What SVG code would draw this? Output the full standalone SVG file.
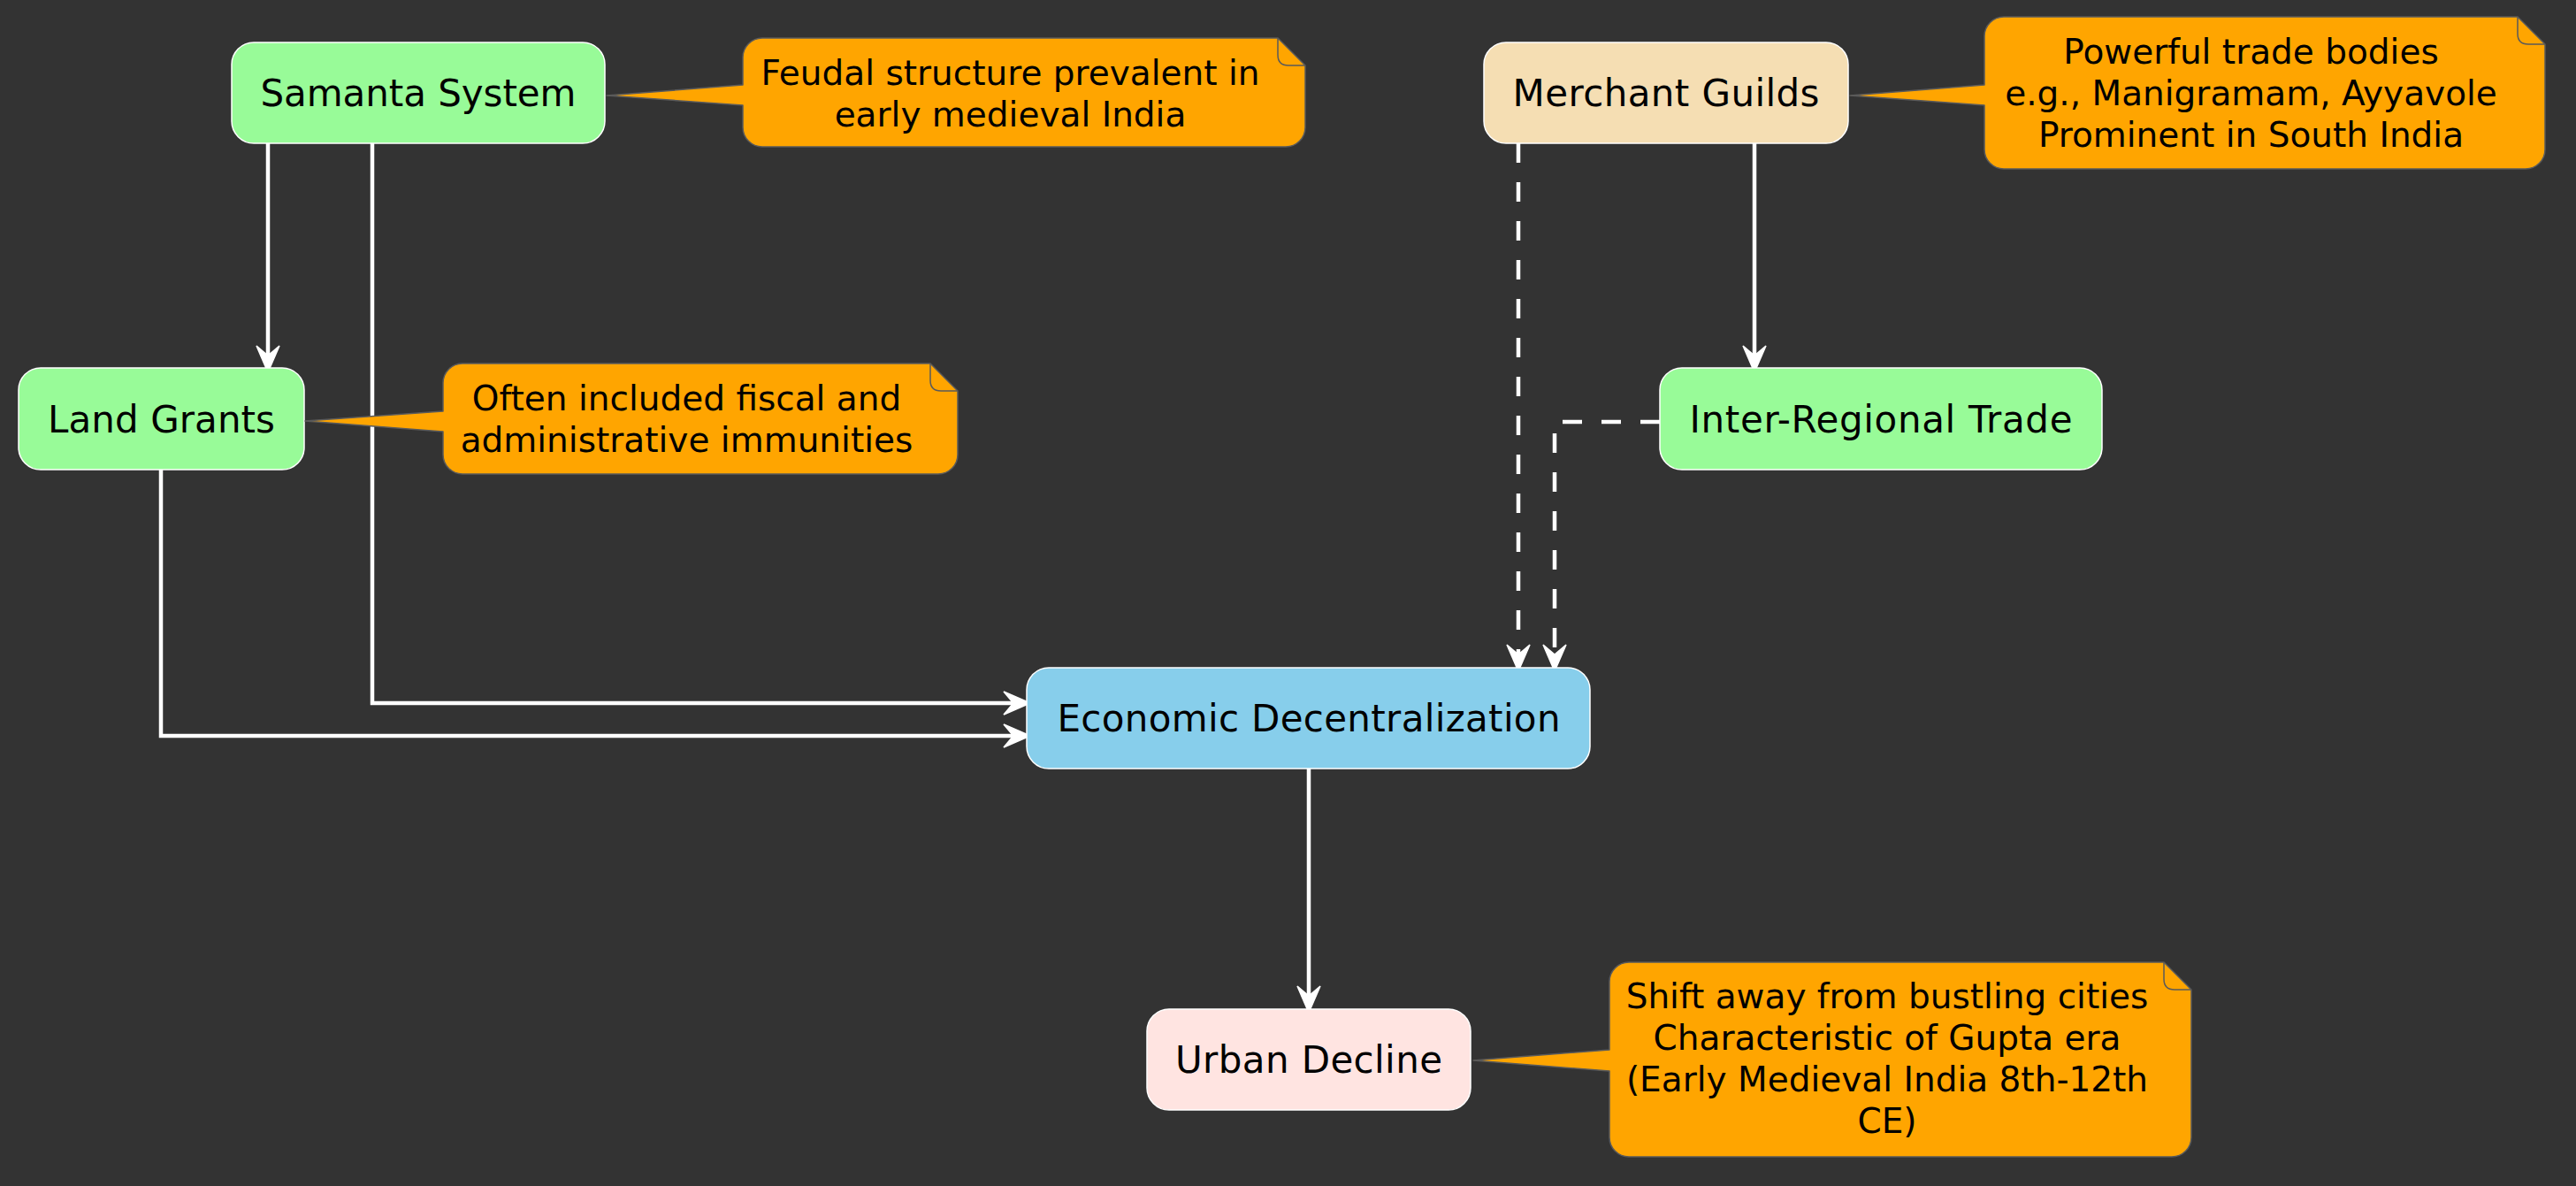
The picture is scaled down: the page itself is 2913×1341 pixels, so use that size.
<svg xmlns="http://www.w3.org/2000/svg" width="2913" height="1341" viewBox="0 0 2913 1341">
<style>
.bg{fill:#333333}
.node rect{stroke:#FFFFFF;stroke-width:1.5}
.node text{font-family:"DejaVu Sans","Liberation Sans",sans-serif;font-size:42px;fill:#000000;text-anchor:middle}
.note path.body{fill:#FFA500;stroke:#5a5a5a;stroke-width:1.5;stroke-linejoin:round}
.note path.fold{fill:none;stroke:#5a5a5a;stroke-width:1.5}
.note text{font-family:"DejaVu Sans","Liberation Sans",sans-serif;font-size:39px;fill:#000000;text-anchor:middle}
.edge{fill:none;stroke:#FFFFFF;stroke-width:4.5;marker-end:url(#arrow)}
.dashed{stroke-dasharray:22 22}
</style>
<defs>
<marker id="arrow" markerUnits="userSpaceOnUse" viewBox="-34 -16 36 32" markerWidth="36" markerHeight="32" refX="-15" refY="0" orient="auto" overflow="visible">
<path d="M0,0 L-30,-13 L-19,0 L-30,13 Z" fill="#FFFFFF" stroke="#FFFFFF" stroke-width="1.5" stroke-linejoin="miter"/>
</marker>
</defs>
<rect class="bg" x="0" y="0" width="2913" height="1341"/>

<g id="connectors">
<path class="edge" d="M303,162 V406"/>
<path class="edge" d="M421,162 V795 H1150"/>
<path class="edge" d="M182,531 V832 H1150"/>
<path class="edge dashed" d="M1717,162 V744"/>
<path class="edge dashed" d="M1877,477 H1758 V744"/>
<path class="edge" d="M1984,162 V406"/>
<path class="edge" d="M1480,869 V1130"/>
</g>

<g id="node-samanta" class="node">
<rect x="262" y="48" width="422" height="114" rx="25" ry="25" fill="#98FB98"/>
<text x="473" y="120" textLength="357" lengthAdjust="spacing">Samanta System</text>
</g>
<g id="node-landgrants" class="node">
<rect x="21" y="416" width="323" height="115" rx="25" ry="25" fill="#98FB98"/>
<text x="182.5" y="488.5" textLength="257" lengthAdjust="spacing">Land Grants</text>
</g>
<g id="node-merchant" class="node">
<rect x="1678" y="48" width="412" height="114" rx="25" ry="25" fill="#F5DEB3"/>
<text x="1884" y="120" textLength="347" lengthAdjust="spacing">Merchant Guilds</text>
</g>
<g id="node-interregional" class="node">
<rect x="1877" y="416" width="500" height="115" rx="25" ry="25" fill="#98FB98"/>
<text x="2127" y="488.5" textLength="433" lengthAdjust="spacing">Inter-Regional Trade</text>
</g>
<g id="node-economic" class="node">
<rect x="1161" y="755" width="637" height="114" rx="25" ry="25" fill="#87CEEB"/>
<text x="1480" y="827" textLength="569" lengthAdjust="spacing">Economic Decentralization</text>
</g>
<g id="node-urban" class="node">
<rect x="1297" y="1141" width="366" height="114" rx="25" ry="25" fill="#FFE4E1"/>
<text x="1480" y="1213" textLength="302" lengthAdjust="spacing">Urban Decline</text>
</g>

<g id="note-feudal" class="note">
<path class="body" d="M862,43 H1445 L1476,74 V144 A22,22 0 0 1 1454,166 H862 A22,22 0 0 1 840,144 V119 L686,108 L840,96 V65 A22,22 0 0 1 862,43 Z"/>
<path class="fold" d="M1445,43 V62 Q1445,74 1457,74 H1476"/>
<text x="1142.5" y="96">Feudal structure prevalent in</text>
<text x="1142.5" y="143">early medieval India</text>
</g>
<g id="note-land" class="note">
<path class="body" d="M523,411 H1052 L1083,442 V514 A22,22 0 0 1 1061,536 H523 A22,22 0 0 1 501,514 V488 L345,476 L501,465 V433 A22,22 0 0 1 523,411 Z"/>
<path class="fold" d="M1052,411 V430 Q1052,442 1064,442 H1083"/>
<text x="776.5" y="464">Often included fiscal and</text>
<text x="776.5" y="511">administrative immunities</text>
</g>
<g id="note-merchant" class="note">
<path class="body" d="M2266,19 H2847 L2878,50 V169 A22,22 0 0 1 2856,191 H2266 A22,22 0 0 1 2244,169 V119 L2092,108 L2244,96 V41 A22,22 0 0 1 2266,19 Z"/>
<path class="fold" d="M2847,19 V38 Q2847,50 2859,50 H2878"/>
<text x="2545.5" y="71.5">Powerful trade bodies</text>
<text x="2545.5" y="118.5">e.g., Manigramam, Ayyavole</text>
<text x="2545.5" y="165.5">Prominent in South India</text>
</g>
<g id="note-urban" class="note">
<path class="body" d="M1842,1088 H2447 L2478,1119 V1286 A22,22 0 0 1 2456,1308 H1842 A22,22 0 0 1 1820,1286 V1211 L1666,1199 L1820,1187 V1110 A22,22 0 0 1 1842,1088 Z"/>
<path class="fold" d="M2447,1088 V1107 Q2447,1119 2459,1119 H2478"/>
<text x="2134" y="1140">Shift away from bustling cities</text>
<text x="2134" y="1187">Characteristic of Gupta era</text>
<text x="2134" y="1234">(Early Medieval India 8th-12th</text>
<text x="2134" y="1281">CE)</text>
</g>
</svg>
